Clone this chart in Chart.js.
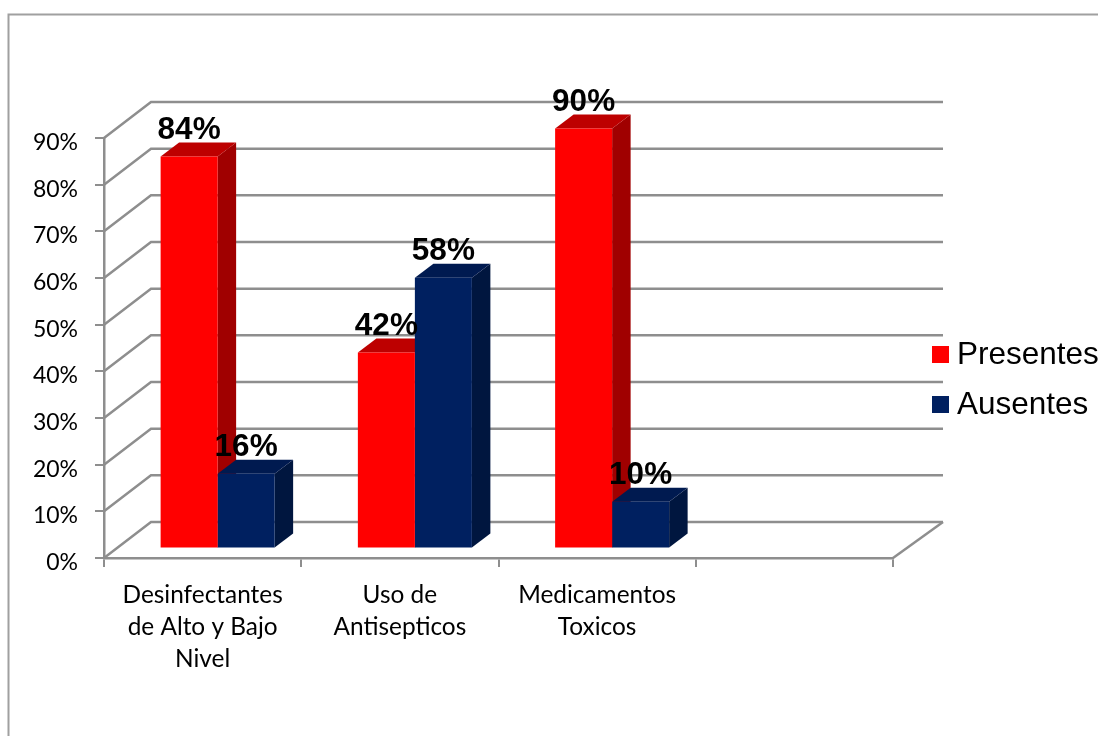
<!DOCTYPE html>
<html lang="es">
<head>
  <meta charset="UTF-8" />
  <title>Presentes y Ausentes</title>
  <script src="https://cdn.jsdelivr.net/npm/chart.js"></script>
  <style>
    html, body {
      margin: 0;
      padding: 0;
      background: #fff;
      overflow: hidden;
    }
    canvas {
      display: block;
    }
  </style>
</head>
<body>
  <canvas id="chart" width="1098" height="736"></canvas>

  <script>
    const categories = [
      ['Desinfectantes', 'de Alto y Bajo', 'Nivel'],
      ['Uso de', 'Antisepticos'],
      ['Medicamentos', 'Toxicos'],
      ''
    ];
    const presentes = [84, 42, 90, null];
    const ausentes = [16, 58, 10, null];
    const seriesColors = ['#ff0000', '#002060'];
    const topColors = ['#bd0000', '#001a50'];
    const sideColors = ['#a00000', '#00163f'];

    const gridColor = '#8e8e8e';
    // 3d look: how far the back wall sits from the axes
    const wallLeftX = 47, wallRightX = 50, wallY = 36;
    // bars stand a bit behind the front edge of the floor
    const barShiftX = 15, barShiftY = 9.5;
    const barDepthX = 18.5, barDepthY = 14;

    const fake3d = {
      id: 'fake3d',
      beforeDraw(chart) {
        const ctx = chart.ctx;
        // outer frame, only top and left show up in the picture
        ctx.save();
        ctx.strokeStyle = '#a0a0a0';
        ctx.lineWidth = 2;
        ctx.beginPath();
        ctx.moveTo(8.5, 736);
        ctx.lineTo(8.5, 14.5);
        ctx.lineTo(1098, 14.5);
        ctx.stroke();
        ctx.restore();
      },
      beforeDatasetsDraw(chart) {
        const ctx = chart.ctx;
        const { x, y } = chart.scales;
        const left = x.left, right = x.right;

        ctx.save();
        ctx.strokeStyle = gridColor;
        ctx.lineWidth = 2.5;
        y.ticks.forEach(t => {
          const py = y.getPixelForValue(t.value);
          ctx.beginPath();
          ctx.moveTo(left, py);
          ctx.lineTo(left + wallLeftX, py - wallY);
          ctx.lineTo(right + wallRightX, py - wallY);
          ctx.stroke();
        });
        const floor = y.getPixelForValue(0);
        ctx.beginPath();
        ctx.moveTo(right, floor);
        ctx.lineTo(right + wallRightX, floor - wallY);
        ctx.stroke();

        // sides and tops of the bars go under the front faces
        ctx.translate(barShiftX, -barShiftY);
        chart.data.datasets.forEach((ds, i) => {
          chart.getDatasetMeta(i).data.forEach((bar, j) => {
            if (ds.data[j] == null) return;
            const p = bar.getProps(['x', 'y', 'base', 'width']);
            const l = p.x - p.width / 2, r = p.x + p.width / 2;
            ctx.fillStyle = sideColors[i];
            ctx.beginPath();
            ctx.moveTo(r, p.y);
            ctx.lineTo(r + barDepthX, p.y - barDepthY);
            ctx.lineTo(r + barDepthX, p.base - barDepthY);
            ctx.lineTo(r, p.base);
            ctx.closePath();
            ctx.fill();
            ctx.fillStyle = topColors[i];
            ctx.beginPath();
            ctx.moveTo(l, p.y);
            ctx.lineTo(l + barDepthX, p.y - barDepthY);
            ctx.lineTo(r + barDepthX, p.y - barDepthY);
            ctx.lineTo(r, p.y);
            ctx.closePath();
            ctx.fill();
          });
        });
        // left translated on purpose, the library draws the fronts next
      },
      afterDatasetsDraw(chart) {
        const ctx = chart.ctx;
        ctx.restore();

        // value labels
        ctx.save();
        ctx.fillStyle = '#000';
        ctx.font = 'bold 31.5px "Liberation Sans", Arial, sans-serif';
        ctx.textAlign = 'center';
        ctx.textBaseline = 'alphabetic';
        chart.data.datasets.forEach((ds, i) => {
          chart.getDatasetMeta(i).data.forEach((bar, j) => {
            if (ds.data[j] == null) return;
            ctx.fillText(ds.data[j] + '%', bar.x + barShiftX, bar.y - barShiftY - 18);
          });
        });

        // legend
        ctx.font = '31.5px "Liberation Sans", Arial, sans-serif';
        ctx.textAlign = 'left';
        ctx.textBaseline = 'middle';
        chart.data.datasets.forEach((ds, i) => {
          const ly = 354.5 + i * 50;
          ctx.fillStyle = ds.backgroundColor;
          ctx.fillRect(932, ly - 8.5, 17, 17);
          ctx.fillStyle = '#000';
          ctx.fillText(ds.label, 957, ly + 1);
        });
        ctx.restore();
      }
    };

    new Chart(document.getElementById('chart'), {
      type: 'bar',
      data: {
        labels: categories,
        datasets: [
          { label: 'Presentes', data: presentes, backgroundColor: seriesColors[0], clip: false },
          { label: 'Ausentes', data: ausentes, backgroundColor: seriesColors[1], clip: false }
        ]
      },
      options: {
        responsive: false,
        animation: false,
        layout: { padding: { left: 4, top: 138, right: 205, bottom: 28 } },
        datasets: { bar: { categoryPercentage: 0.578, barPercentage: 1 } },
        plugins: {
          legend: { display: false },
          tooltip: { enabled: false }
        },
        scales: {
          x: {
            afterFit(scale) { scale.height = 150; },
            border: { color: gridColor, width: 2.5 },
            grid: { drawOnChartArea: false, color: gridColor, lineWidth: 2, tickLength: 9 },
            ticks: {
              color: '#000',
              autoSkip: false,
              maxRotation: 0,
              minRotation: 0,
              padding: 12,
              font: { family: 'Lato', size: 24.4, lineHeight: 1.32 }
            }
          },
          y: {
            min: 0,
            max: 90,
            afterFit(scale) { scale.width = 100; },
            border: { color: gridColor, width: 2.5 },
            grid: { drawOnChartArea: false, color: gridColor, lineWidth: 2, tickLength: 9 },
            ticks: {
              stepSize: 10,
              color: '#000',
              padding: 17,
              // empty first line pushes the label down a few px like the original
              font: { family: 'Lato', size: 23, lineHeight: '9px' },
              callback: v => ['', v + '%']
            }
          }
        }
      },
      plugins: [fake3d]
    });
  </script>
</body>
</html>
